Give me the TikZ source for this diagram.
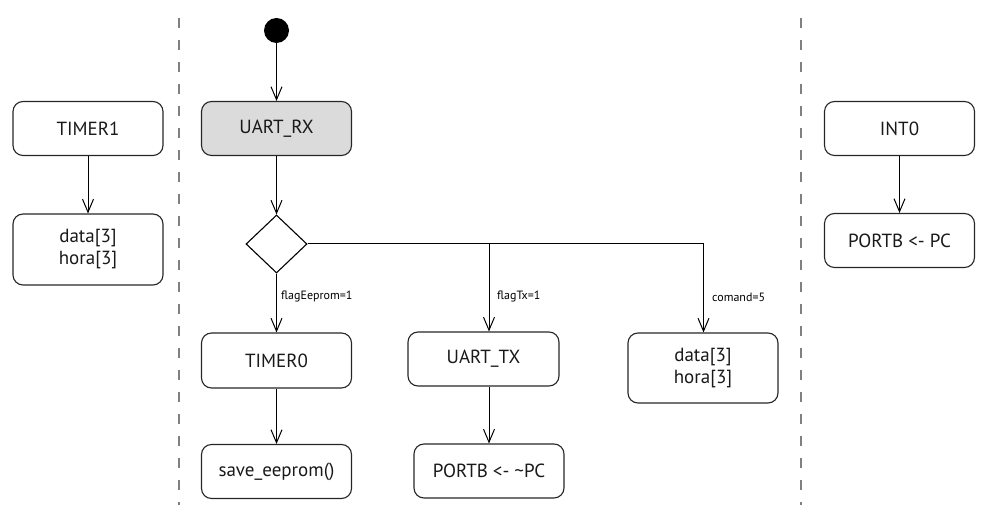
\documentclass[tikz,border=0pt]{standalone}
\usepackage{fontspec}
\setmainfont{PT Sans}
\usetikzlibrary{arrows.meta,shapes.geometric}
\tikzset{
  state/.style={draw=black!85, line width=1.1pt, rounded corners=10pt, minimum width=150pt, minimum height=54pt, inner sep=0pt, align=center, font=\fontsize{19}{22}\selectfont, text=black!90},
  flow/.style={draw=black, line width=1pt, -{Straight Barb[length=13pt,width=11pt,line width=1pt]}},
  plain/.style={draw=black, line width=1pt},
  guard/.style={font=\fontsize{12}{14}\selectfont, anchor=west, inner sep=0pt},
  lane/.style={draw=black!50, line width=1.8pt, dash pattern=on 10pt off 12pt}
}
\begin{document}
\begin{tikzpicture}[x=1pt,y=-1pt]
\useasboundingbox (0,0) rectangle (985,526);
% swimlane separators
\coordinate (l1a) at (179,18); \coordinate (l1b) at (179,505);
\coordinate (l2a) at (801,18); \coordinate (l2b) at (801,505);
\draw[lane] (l1a) -- (l1b);
\draw[lane] (l2a) -- (l2b);
% nodes
\node[circle, fill=black, minimum size=25pt, inner sep=0pt] (init) at (276.5,30.5) {};
\node[state, fill=black!14] (uartrx) at (276.5,128.5) {UART\_RX};
\node[state] (timer1) at (88,128.5) {TIMER1};
\node[state, minimum height=71pt] (data1) at (88,249.5) {data[3]\\hora[3]};
\node[draw=black, line width=1.1pt, diamond, minimum width=61pt, minimum height=58pt, inner sep=0pt] (dec) at (276.5,244) {};
\node[state, minimum height=55pt] (timer0) at (276.5,360.5) {TIMER0};
\node[state, minimum width=151pt] (uarttx) at (483.5,359) {UART\_TX};
\node[state, minimum height=70pt] (data2) at (703,368) {data[3]\\hora[3]};
\node[state] (save) at (276.5,471.5) {save\_eeprom()};
\node[state] (portbn) at (489,471) {PORTB <- \textasciitilde PC};
\node[state] (int0) at (899.5,128.5) {INT0};
\node[state] (portb) at (899.5,240.5) {PORTB <- PC};
% branch points
\coordinate (b1) at (489,244);
\coordinate (b2) at (703.5,244);
% connectors
\draw[flow] (init) -- (uartrx);
\draw[flow] (uartrx) -- (dec.north);
\draw[flow] (dec.south) -- (timer0.north);
\draw[plain] (dec.east) -- (b2);
\draw[flow] (b1) -- (b1 |- uarttx.north);
\draw[flow] (b2) -- (b2 |- data2.north);
\draw[flow] (timer0) -- (save);
\draw[flow] (b1 |- uarttx.south) -- (portbn.north);
\draw[flow] (timer1) -- (data1);
\draw[flow] (int0) -- (portb);
% guards
\node[guard] (g1) at (281,297) {flagEeprom=1};
\node[guard] (g2) at (497,297) {flagTx=1};
\node[guard] (g3) at (712,297) {comand=5};
\end{tikzpicture}
\end{document}
